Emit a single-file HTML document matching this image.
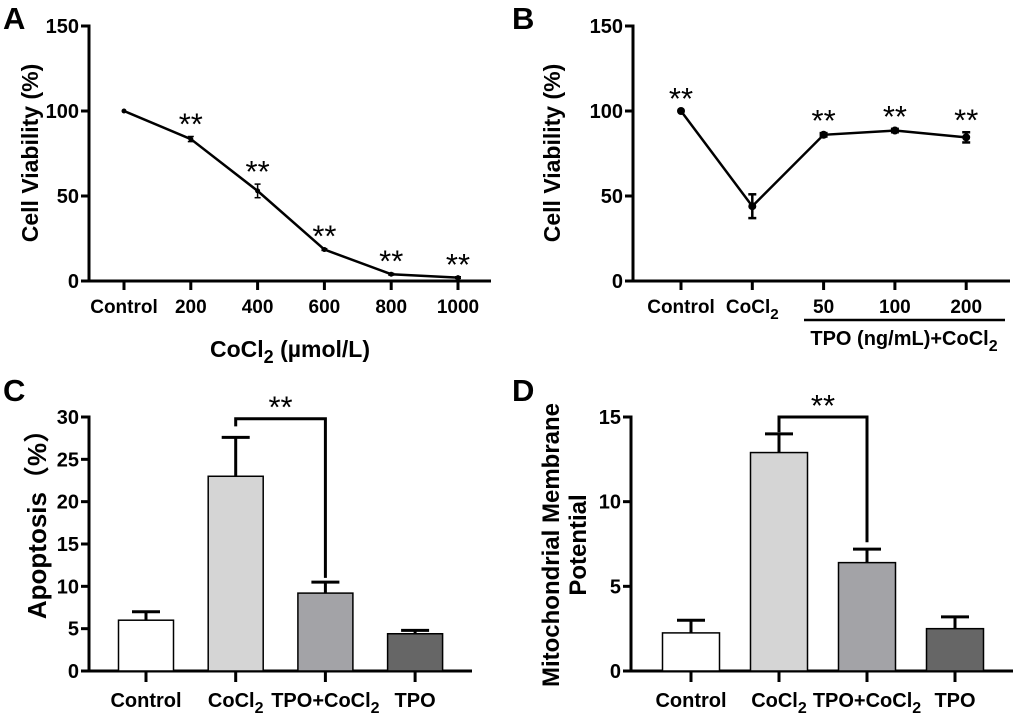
<!DOCTYPE html>
<html><head><meta charset="utf-8"><style>
body{margin:0;background:#fff}
svg{display:block;font-family:"Liberation Sans",Arial,sans-serif;font-weight:bold}
</style></head><body>
<svg id="s" width="1020" height="719" viewBox="0 0 1020 719">
<text x="3" y="29" font-size="31">A</text>
<text x="512" y="29" font-size="31">B</text>
<text x="3" y="401" font-size="31">C</text>
<text x="512" y="401" font-size="31">D</text>
</svg>
<script>
const aCats=["Control","200","400","600","800","1000"];
const aVals=[100,83.5,53,18.5,4,2];
const aErr=[0,1.5,4,0.5,0.5,0.5];
const bCats=["Control","CoCl","50","100","200"];
const bVals=[100,44,86,88.5,84.5];
const bErr=[0,7,1,1,3];
const cCats=["Control","CoCl","TPO+CoCl","TPO"];
const cVals=[6.0,23.0,9.2,4.4];
const cErr=[1.0,4.6,1.3,0.4];
const dCats=["Control","CoCl","TPO+CoCl","TPO"];
const dVals=[2.25,12.9,6.4,2.5];
const dErr=[0.75,1.1,0.8,0.7];
const yTicksAB=[0,50,100,150];
const yTicksC=[0,5,10,15,20,25,30];
const yTicksD=[0,5,10,15];
const fills=["#ffffff","#d5d5d5","#a3a3a7","#666666"];

const svg=document.getElementById('s');
const NS="http://www.w3.org/2000/svg";
function mk(t,a,p){const e=document.createElementNS(NS,t);for(const k in a)e.setAttribute(k,a[k]);(p||svg).appendChild(e);return e;}
function ln(x1,y1,x2,y2,w){return mk('line',{x1,y1,x2,y2,stroke:'#000','stroke-width':w||3});}
function txt(x,y,s,size,anchor,name){const t=mk('text',{x,y,'font-size':size,'text-anchor':anchor||'middle'});t.textContent=s;


return t;}
function catLabel(x,y,s,size,name){
  const t=mk('text',{x,y,'font-size':size,'text-anchor':'middle'});
  
  
  if(s.endsWith("CoCl")){t.appendChild(document.createTextNode(s));const sub=mk('tspan',{dy:6,'font-size':size*0.8},t);sub.textContent="2";}
  else t.textContent=s;
  return t;}
function yAxis(ax,y0,yTop,ticks,vmax,xEnd,name){
  const ys=v=>y0-(v/vmax)*(y0-yTop);
  ln(ax,y0,ax,yTop-1.5);ln(ax-1.5,y0,xEnd,y0);
  ticks.forEach(v=>{ln(ax-8,ys(v),ax,ys(v));txt(ax-10,ys(v)+7,String(v),20,'end',name+'-tick-'+v);});
  return ys;}
function stars(x,y,name){const t=txt(x,y,"**",31,'middle',name);t.setAttribute('font-weight','normal');}

// Panel A
(function(){
  const ys=yAxis(89,281,26,yTicksAB,150,491,'a-y');
  const xs=i=>124+i*66.8;
  aCats.forEach((c,i)=>{ln(xs(i),281,xs(i),290);txt(xs(i),313,c,19,'middle','a-x-label-'+c);});
  const pts=aVals.map((v,i)=>xs(i)+","+ys(v)).join(" ");
  const pl=mk('polyline',{points:pts,fill:'none',stroke:'#000','stroke-width':2.5});
  
  
  aVals.forEach((v,i)=>{
    if(aErr[i]){ln(xs(i),ys(v+aErr[i]),xs(i),ys(v-aErr[i]),1.5);ln(xs(i)-3,ys(v+aErr[i]),xs(i)+3,ys(v+aErr[i]),1.5);ln(xs(i)-3,ys(v-aErr[i]),xs(i)+3,ys(v-aErr[i]),1.5);}
    const c=mk('circle',{cx:xs(i),cy:ys(v),r:2.5,fill:'#000'});
    
    
    if(i>0)stars(xs(i),ys(v+aErr[i])-2,'a-sig');
  });
  const t=txt(0,0,"Cell Viability (%)",23,'middle','a-y-title');t.setAttribute('transform','translate(38,153) rotate(-90)');
  const xt=mk('text',{x:290,y:357,'font-size':23,'text-anchor':'middle'});
  
  
  xt.appendChild(document.createTextNode("CoCl"));const s=mk('tspan',{dy:6,'font-size':18},xt);s.textContent="2";
  const s2=mk('tspan',{dy:-6},xt);s2.textContent=" (µmol/L)";
})();

// Panel B
(function(){
  const ys=yAxis(633,281,26,yTicksAB,150,1010,'b-y');
  const xs=i=>681+i*71.3;
  bCats.forEach((c,i)=>{ln(xs(i),281,xs(i),290);catLabel(xs(i),313,c,19,'b-x-label-'+c);});
  const pts=bVals.map((v,i)=>xs(i)+","+ys(v)).join(" ");
  const pl=mk('polyline',{points:pts,fill:'none',stroke:'#000','stroke-width':2.5});
  
  
  bVals.forEach((v,i)=>{
    if(bErr[i]){ln(xs(i),ys(v+bErr[i]),xs(i),ys(v-bErr[i]),2.5);ln(xs(i)-4,ys(v+bErr[i]),xs(i)+4,ys(v+bErr[i]),2.5);ln(xs(i)-4,ys(v-bErr[i]),xs(i)+4,ys(v-bErr[i]),2.5);}
    const c=mk('circle',{cx:xs(i),cy:ys(v),r:4,fill:'#000'});
    
    
    if(i!==1)stars(xs(i),ys(v+bErr[i])-2,'b-sig');
  });
  ln(804,320,1005,320,2.5);
  const xt=mk('text',{x:904,y:345,'font-size':20,'text-anchor':'middle'});
  
  
  xt.appendChild(document.createTextNode("TPO (ng/mL)+CoCl"));const s=mk('tspan',{dy:6,'font-size':16},xt);s.textContent="2";
  const t=txt(0,0,"Cell Viability (%)",23,'middle','b-y-title');t.setAttribute('transform','translate(36,0)');t.setAttribute('transform','translate(560,153) rotate(-90)');
})();

function bars(ax,y0,yTop,ticks,vmax,xEnd,x0,step,bw,cats,vals,errs,pre,br){
  const ys=yAxis(ax,y0,yTop,ticks,vmax,xEnd,pre+'-y');
  const xs=i=>x0+i*step;
  cats.forEach((c,i)=>{
    const r=mk('rect',{x:xs(i)-bw/2,y:ys(vals[i]),width:bw,height:y0-ys(vals[i]),fill:fills[i],stroke:'#000','stroke-width':1.5});
    
    
    const top=ys(vals[i]+errs[i]);
    ln(xs(i),ys(vals[i]),xs(i),top,3);ln(xs(i)-14,top,xs(i)+14,top,3);
    ln(xs(i),y0,xs(i),y0+11);
    catLabel(xs(i),y0+36,c,20,pre+'-x-label-'+i);
  });
  const yb=ys(br[0]);
  const p=mk('polyline',{points:`${xs(1)},${ys(br[1])} ${xs(1)},${yb} ${xs(2)},${yb} ${xs(2)},${ys(br[2])}`,fill:'none',stroke:'#000','stroke-width':3});
  
  
  stars((xs(1)+xs(2))/2,yb-1,pre+'-sig-stars');
}
bars(89,671,417,yTicksC,30,472,146,89.7,55,cCats,cVals,cErr,'c',[29.8,28.9,11]);
(function(){const t=txt(0,0,"Apoptosis（%）",26,'middle','c-y-title');t.setAttribute('font-family','"Liberation Sans","Noto Sans CJK SC",sans-serif');t.setAttribute('transform','translate(46,518) rotate(-90)');})();
bars(631,671,417,yTicksD,15,1013,691,88,57,dCats,dVals,dErr,'d',[15,14.1,7.6]);
(function(){const t=txt(0,0,"Mitochondrial Membrane",24,'middle','d-y-title-1');t.setAttribute('transform','translate(559,545) rotate(-90)');
const t2=txt(0,0,"Potential",24,'middle','d-y-title-2');t2.setAttribute('transform','translate(586,545) rotate(-90)');})();
</script>
</body></html>
